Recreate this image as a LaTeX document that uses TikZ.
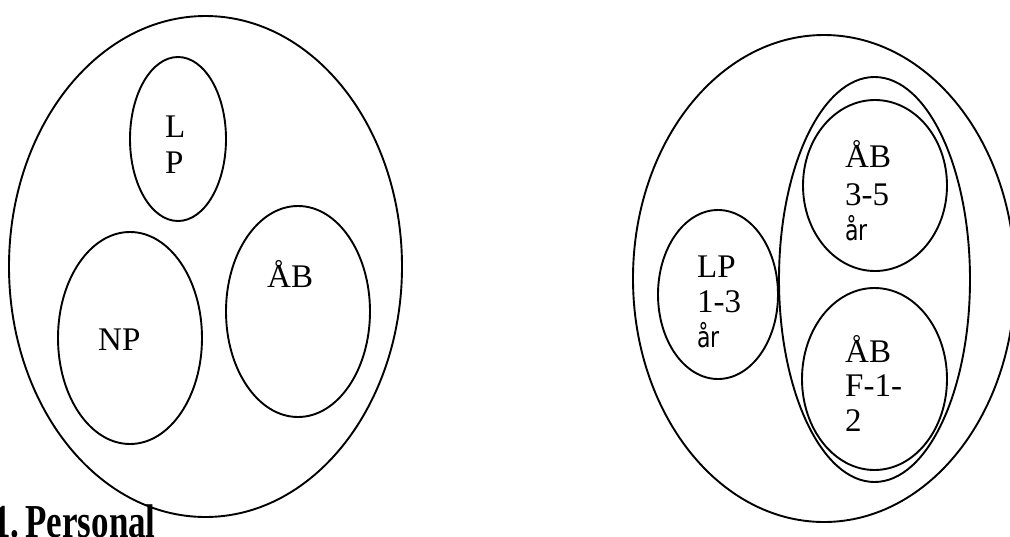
\documentclass[tikz,border=0pt]{standalone}
\usepackage{fontspec}
\setmainfont{Liberation Serif}
\newfontfamily\arfont{DejaVu Sans}
\usetikzlibrary{shapes.geometric}
\tikzset{
  oval/.style={ellipse, draw, line width=1.9pt, inner sep=0pt},
  lbl/.style={anchor=base west, inner sep=0pt, font=\fontsize{33}{36}\selectfont},
  arlbl/.style={anchor=base west, inner sep=0pt, font=\arfont\fontsize{22}{26}\selectfont},
  ttl/.style={anchor=base west, inner sep=0pt, font=\bfseries\fontsize{35}{40}\selectfont}
}
\begin{document}
\begin{tikzpicture}[x=1pt,y=-1pt]
\useasboundingbox (0,0) rectangle (1010,536);
\clip (0,0) rectangle (1010,536);
% left diagram
\node[oval, minimum width=393pt, minimum height=501pt] (big) at (205.5,266.5) {};
\node[oval, minimum width=96pt, minimum height=164pt] (lp) at (178,139) {};
\node[oval, minimum width=144pt, minimum height=212pt] (np) at (130,338) {};
\node[oval, minimum width=144pt, minimum height=211pt] (ab) at (298,311.5) {};
\node[lbl] (lpL) at (165,137) {L};
\node[lbl] (lpP) at (165,173) {P};
\node[lbl] (npT) at (98,350) {NP};
\node[lbl] (abT) at (267,287) {ÅB};
\node[ttl] (title) at (-7,537) {\scalebox{1}[1.35]{1.\kern6pt Personal}};
% right diagram
\node[oval, minimum width=382pt, minimum height=487pt] (outer) at (824,278.5) {};
\node[oval, minimum width=191pt, minimum height=405pt] (mid) at (874.5,279.5) {};
\node[oval, minimum width=120pt, minimum height=169pt] (lp2) at (718,294.5) {};
\node[oval, minimum width=144pt, minimum height=171pt] (ab35) at (875,185.5) {};
\node[oval, minimum width=145pt, minimum height=182pt] (abF) at (874.5,379) {};
\node[lbl] (lp2a) at (697,277) {LP};
\node[lbl] (lp2b) at (697,312) {1-3};
\node[arlbl] (lp2c) at (697,347) {\scalebox{1}[1.3]{år}};
\node[lbl] (ab35a) at (845,167) {ÅB};
\node[lbl] (ab35b) at (845,205) {3-5};
\node[arlbl] (ab35c) at (845,240) {\scalebox{1}[1.3]{år}};
\node[lbl] (abFa) at (845,362) {ÅB};
\node[lbl] (abFb) at (845,396) {F-1-};
\node[lbl] (abFc) at (845,431) {2};
\end{tikzpicture}
\end{document}
